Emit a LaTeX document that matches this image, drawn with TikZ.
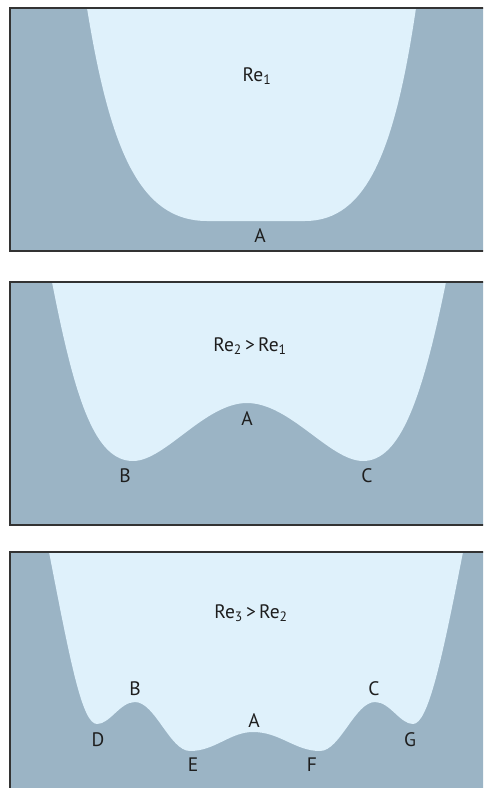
\documentclass[tikz,border=0pt]{standalone}
\usepackage{fontspec}
\setmainfont{PT Sans}
\usepackage{tikz}
\usetikzlibrary{positioning}
\definecolor{wallgrey}{HTML}{9BB4C5}
\definecolor{flowpale}{HTML}{DFF1FB}
\definecolor{frame}{HTML}{333333}
\definecolor{ink}{HTML}{1E1E1E}

\begin{document}
\begin{tikzpicture}[x=1pt,y=-1pt,
  panel/.style={fill=wallgrey},
  flow/.style={fill=flowpale},
  border/.style={draw=frame,line width=1.2pt},
  lbl/.style={font=\fontsize{19.5}{22}\selectfont,text=ink,inner sep=0pt,anchor=base},
]
\useasboundingbox (0,0) rectangle (483,788);
\clip (0,0) rectangle (483,788);

% PANEL 1 (Re_1)
\begin{scope}
\clip (10,8) rectangle (500,251);
\fill[panel] (10,8) rectangle (500,251);
\fill[flow] (87,0) -- (87,8) .. controls (110,150) and (140,221) .. (207,221) -- (305,221)
  .. controls (367,221) and (395,150) .. (416,8) -- (416,0) -- cycle;
\end{scope}
\draw[border] (500,8) -- (10,8) -- (10,251) -- (500,251);
\node[lbl] (re1) at (257,81) {Re\textsubscript{1}};
\node[lbl] (a1) at (260,242) {A};

% PANEL 2 (Re_2 > Re_1)
\begin{scope}
\clip (10,282) rectangle (500,525);
\fill[panel] (10,282) rectangle (500,525);
\fill[flow] (52,270) -- (52,282) .. controls (75,400) and (95,461) .. (133,461)
  .. controls (165,461) and (205,403) .. (247,403)
  .. controls (290,403) and (330,461) .. (363,461)
  .. controls (400,461) and (422,400) .. (446,282) -- (446,270) -- cycle;
\end{scope}
\draw[border] (500,282) -- (10,282) -- (10,525) -- (500,525);
\node[lbl] (re2) at (250,351) {Re\textsubscript{2}\,>\,Re\textsubscript{1}};
\node[lbl] (a2) at (247,425) {A};
\node[lbl] (b2) at (125,482) {B};
\node[lbl] (c2) at (367,482) {C};

% PANEL 3 (Re_3 > Re_2)
\begin{scope}
\clip (10,552) rectangle (500,800);
\fill[panel] (10,552) rectangle (500,800);
\fill[flow] (49,540) -- (49,552) .. controls (70,660) and (82,724) .. (97,724)
  .. controls (110,724) and (120,702) .. (135,702)
  .. controls (155,702) and (170,751) .. (190,751)
  .. controls (215,751) and (230,732) .. (253,732)
  .. controls (280,732) and (295,751) .. (320,751)
  .. controls (340,751) and (355,702) .. (375,702)
  .. controls (390,702) and (400,724) .. (413,724)
  .. controls (428,724) and (442,660) .. (463,552) -- (463,540) -- cycle;
\end{scope}
\draw[border] (500,552) -- (10,552) -- (10,800);
\node[lbl] (re3) at (251,618) {Re\textsubscript{3}\,>\,Re\textsubscript{2}};
\node[lbl] (b3) at (135,695) {B};
\node[lbl] (c3) at (374,695) {C};
\node[lbl] (a3) at (254,727) {A};
\node[lbl] (d3) at (98,746) {D};
\node[lbl] (g3) at (410,746) {G};
\node[lbl] (e3) at (193,771) {E};
\node[lbl] (f3) at (312,771) {F};
\end{tikzpicture}
\end{document}
